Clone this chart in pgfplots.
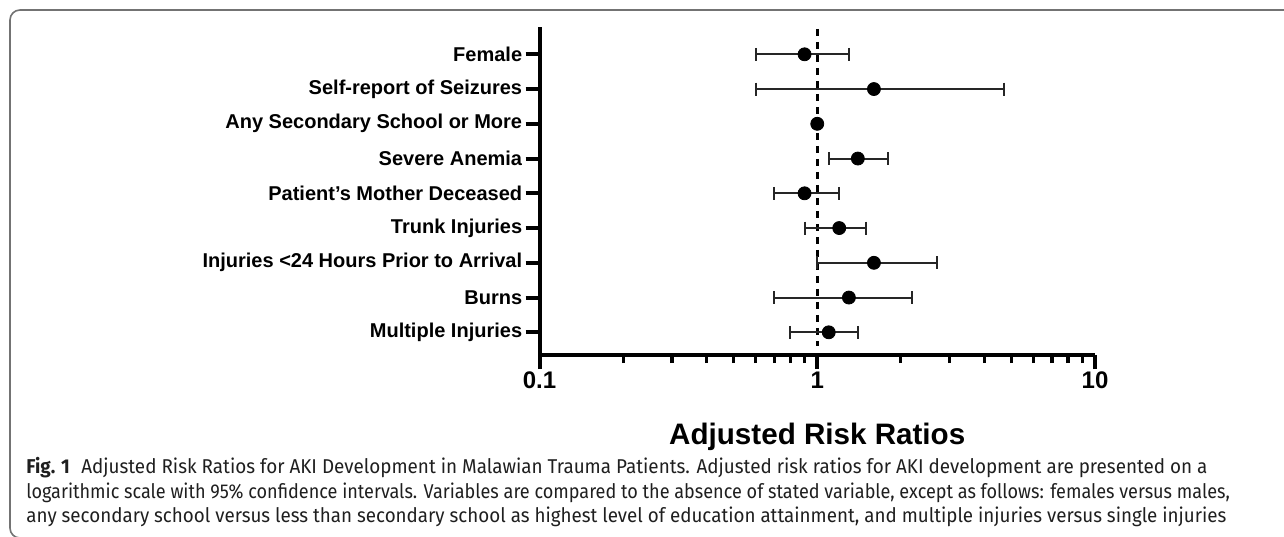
\documentclass[border=0pt]{standalone}
\usepackage{pgfplots}
\pgfplotsset{compat=1.18}
\usepackage{pgfplotstable}
\usepackage{fontspec}
\setmainfont{Liberation Sans}
\newfontfamily\capfont{Fira Sans}
\pgfplotstableread{
y rr lo hi
9 0.9 0.6 1.3
8 1.6 0.6 4.7
7 1.0 0.99 1.01
6 1.4 1.1 1.8
5 0.9 0.7 1.2
4 1.2 0.9 1.5
3 1.6 1.0 2.7
2 1.3 0.7 2.2
1 1.1 0.8 1.4
}\rrdata
\begin{document}
\begin{tikzpicture}
\path[use as bounding box] (0,0) rectangle (642pt,268pt);
\begin{scope}
\clip (0,0) rectangle (642pt,268pt);
\draw[black!55, line width=0.8pt, rounded corners=5pt] (650pt,263pt) -- (5pt,263pt) -- (5pt,-1pt) -- (30pt,-1pt);
\end{scope}
\begin{axis}[
  at={(269.75pt,90.5pt)}, anchor=south west,
  scale only axis, width=277.75pt, height=164pt,
  xmode=log, log basis x=10,
  xmin=0.1, xmax=10, ymin=0.347, ymax=9.786,
  axis x line*=bottom, axis y line*=left,
  axis line style={line width=2pt, black},
  xtick={0.1,1,10}, xticklabels={0.1,1,10},
  minor xtick={0.2,0.3,0.4,0.5,0.6,0.7,0.8,0.9,2,3,4,5,6,7,8,9},
  ytick={1,2,3,4,5,6,7,8,9},
  yticklabels={Multiple Injuries,Burns,Injuries <24 Hours Prior to Arrival,Trunk Injuries,Patient's Mother Deceased,Severe Anemia,Any Secondary School or More,Self-report of Seizures,Female},
  tick align=outside,
  major tick length=7pt, minor tick length=4pt,
  every major tick/.append style={line width=2pt, black},
  every minor tick/.append style={line width=1.6pt, black},
  /pgf/number format/assume math mode=true,
  xticklabel style={font=\bfseries\fontsize{12}{14}\selectfont, anchor=base, inner sep=0pt, yshift=-9.5pt},
  yticklabel style={font=\bfseries\fontsize{10}{12}\selectfont, anchor=east, inner sep=0pt, xshift=-1.5pt},
  xlabel={Adjusted Risk Ratios},
  xlabel style={font=\bfseries\fontsize{14.8}{17}\selectfont, at={(axis description cs:0.5,0)}, anchor=base, inner sep=0pt, yshift=-44.5pt},
  clip=false,
]
\addplot[black, line width=1.5pt, dash pattern=on 3.5pt off 3pt] coordinates {(1,9.73) (1,0.6)};
\pgfplotsinvokeforeach{0,...,8}{
  \pgfplotstablegetelem{#1}{lo}\of\rrdata \let\lo\pgfplotsretval
  \pgfplotstablegetelem{#1}{hi}\of\rrdata \let\hi\pgfplotsretval
  \pgfplotstablegetelem{#1}{y}\of\rrdata \let\yy\pgfplotsretval
  \edef\temp{\noexpand\addplot[black!85, line width=1pt, mark=|, mark size=3.25pt, mark options={line width=1pt, solid}] coordinates {(\lo,\yy) (\hi,\yy)};}
  \temp
}
\addplot[only marks, mark=*, mark size=3.25pt, black] table[x=rr, y=y] {\rrdata};
\end{axis}
\begin{scope}[every node/.style={anchor=base west, inner sep=0pt, text=black!88, font=\capfont\fontsize{10}{12}\selectfont}]
\node at (13pt,31.5pt) {\scalebox{0.943}[1]{\textbf{Fig. 1}\hspace{0.6em}Adjusted Risk Ratios for AKI Development in Malawian Trauma Patients. Adjusted risk ratios for AKI development are presented on a}};
\node at (13pt,19pt) {\scalebox{0.903}[1]{logarithmic scale with 95\% confidence intervals. Variables are compared to the absence of stated variable, except as follows: females versus males,}};
\node at (13pt,7pt) {\scalebox{0.939}[1]{any secondary school versus less than secondary school as highest level of education attainment, and multiple injuries versus single injuries}};
\end{scope}
\end{tikzpicture}
\end{document}
